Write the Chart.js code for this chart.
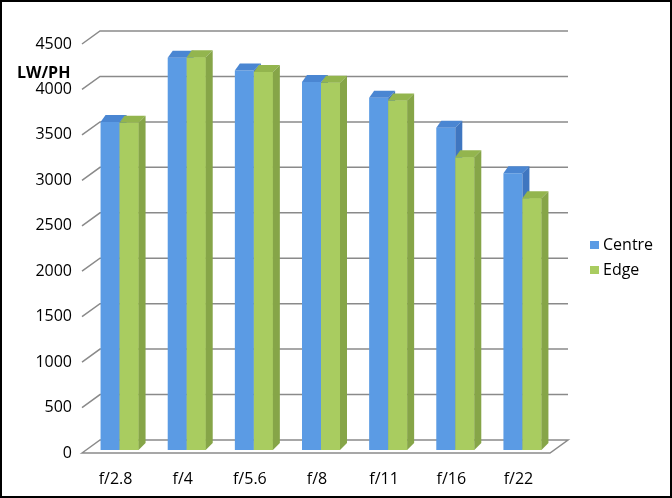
<!DOCTYPE html>
<html lang="en">
<head>
  <meta charset="UTF-8" />
  <title>LW/PH by aperture</title>
  <script src="https://cdn.jsdelivr.net/npm/chart.js"></script>
  <style>
    html, body { margin: 0; padding: 0; background: #fff; }
    canvas { display: block; }
  </style>
</head>
<body>
  <canvas id="chart" width="672" height="498"></canvas>

  <script>
    // Data
    const apertures = ['f/2.8', 'f/4', 'f/5.6', 'f/8', 'f/11', 'f/16', 'f/22'];
    const centre = [3610, 4315, 4175, 4050, 3875, 3545, 3045];
    const edge = [3600, 4320, 4160, 4040, 3845, 3220, 2770];
    const yTicks = [0, 500, 1000, 1500, 2000, 2500, 3000, 3500, 4000, 4500];

    const FONT = '"Open Sans", "DejaVu Sans", sans-serif';
    const DEPTH_X = 7, DEPTH_Y = 7;   // bar extrusion
    const WALL_X = 18;                // how far back the wall sits
    const FRONT_DY = 3, BACK_DY = -10;

    const faces = [
      { front: '#5b9be4', top: '#4a86d2', side: '#3f76c0' },
      { front: '#a9cc60', top: '#93b54e', side: '#86a548' }
    ];

    // back wall gridlines + floor, drawn before the bars
    const wallPlugin = {
      id: 'wall',
      beforeDatasetsDraw(chart) {
        const ctx = chart.ctx;
        const y = chart.scales.y;
        const area = chart.chartArea;
        const left = area.left - 4;
        const right = area.right + 12;
        ctx.save();
        ctx.strokeStyle = '#8a8a8a';
        ctx.lineWidth = 1.5;
        // floor
        const y0 = y.getPixelForValue(0);
        ctx.beginPath();
        ctx.moveTo(left, y0 + FRONT_DY);
        ctx.lineTo(left + WALL_X, y0 + BACK_DY);
        ctx.lineTo(right, y0 + BACK_DY);
        ctx.lineTo(right - WALL_X, y0 + FRONT_DY);
        ctx.closePath();
        ctx.fillStyle = '#fff';
        ctx.fill();
        ctx.stroke();
        yTicks.forEach(v => {
          if (v === 0) return;
          const py = y.getPixelForValue(v);
          ctx.beginPath();
          ctx.moveTo(left, py + FRONT_DY);
          ctx.lineTo(left + WALL_X, py + BACK_DY);
          ctx.lineTo(right, py + BACK_DY);
          ctx.stroke();
        });
        ctx.restore();
      }
    };

    // top and side faces of every bar
    const boxPlugin = {
      id: 'box',
      afterDatasetsDraw(chart) {
        const ctx = chart.ctx;
        const metas = [chart.getDatasetMeta(0), chart.getDatasetMeta(1)];
        ctx.save();
        apertures.forEach((_, i) => {
          metas.forEach((meta, d) => {
            const bar = meta.data[i];
            const x0 = bar.x - bar.width / 2;
            const x1 = bar.x + bar.width / 2;
            const top = bar.y;
            const base = bar.base;
            const c = faces[d];
            if (d > 0) {
              ctx.fillStyle = c.front;
              ctx.fillRect(x0, top, x1 - x0, base - top);
            }
            // top face
            ctx.fillStyle = c.top;
            ctx.beginPath();
            ctx.moveTo(x0, top);
            ctx.lineTo(x1, top);
            ctx.lineTo(x1 + DEPTH_X, top - DEPTH_Y);
            ctx.lineTo(x0 + DEPTH_X - 2, top - DEPTH_Y);
            ctx.closePath();
            ctx.fill();
            // side face
            ctx.fillStyle = c.side;
            ctx.beginPath();
            ctx.moveTo(x1, top);
            ctx.lineTo(x1 + DEPTH_X, top - DEPTH_Y);
            ctx.lineTo(x1 + DEPTH_X, base - DEPTH_Y);
            ctx.lineTo(x1, base);
            ctx.closePath();
            ctx.fill();
          });
        });
        ctx.restore();
      },
      afterDraw(chart) {
        const ctx = chart.ctx;
        ctx.save();
        // axis caption
        ctx.fillStyle = '#000';
        ctx.font = 'bold 16px ' + FONT;
        ctx.textAlign = 'left';
        ctx.textBaseline = 'middle';
        ctx.fillText('LW/PH', 17, 73);
        // legend
        ctx.font = '16px ' + FONT;
        const items = [['Centre', faces[0].front, 245], ['Edge', faces[1].front, 270]];
        items.forEach(([txt, col, cy]) => {
          ctx.fillStyle = col;
          ctx.fillRect(590, cy - 4, 9, 8);
          ctx.fillStyle = '#000';
          ctx.fillText(txt, 603, cy);
        });
        // frame
        ctx.strokeStyle = '#000';
        ctx.lineWidth = 2;
        ctx.strokeRect(1, 1, 670, 496);
        ctx.restore();
      }
    };

    new Chart(document.getElementById('chart'), {
      type: 'bar',
      data: {
        labels: apertures,
        datasets: [
          { label: 'Centre', data: centre, backgroundColor: faces[0].front },
          { label: 'Edge', data: edge, backgroundColor: faces[1].front }
        ]
      },
      options: {
        responsive: false,
        animation: false,
        layout: { padding: { top: 41, right: 116, left: 0, bottom: 0 } },
        datasets: {
          bar: { categoryPercentage: 0.566, barPercentage: 1.0 }
        },
        scales: {
          x: {
            grid: { display: false, drawTicks: false },
            border: { display: false },
            ticks: { color: '#000', font: { family: FONT, size: 16 }, padding: 20, labelOffset: -4 },
            afterFit(scale) { scale.height = 48; }
          },
          y: {
            min: 0,
            max: 4500,
            grid: { display: false, drawTicks: false },
            border: { display: false },
            afterBuildTicks(scale) { scale.ticks = yTicks.map(v => ({ value: v })); },
            ticks: {
              color: '#000',
              font: { family: FONT, size: 16 },
              padding: 14,
              labelOffset: 3,
              callback: v => String(v)
            },
            afterFit(scale) { scale.width = 86; }
          }
        },
        plugins: {
          legend: { display: false },
          tooltip: { enabled: false }
        }
      },
      plugins: [wallPlugin, boxPlugin]
    });
  </script>
</body>
</html>
